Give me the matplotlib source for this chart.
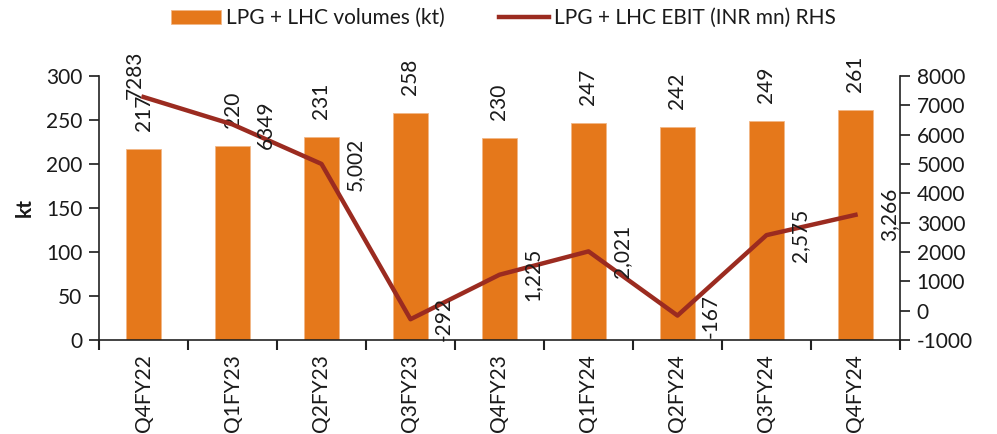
import matplotlib
matplotlib.use("Agg")
import matplotlib.pyplot as plt
import numpy as np

plt.rcParams['font.family'] = ['Lato', 'DejaVu Sans']
plt.rcParams['axes.unicode_minus'] = False

quarters = ["Q4FY22", "Q1FY23", "Q2FY23", "Q3FY23", "Q4FY23",
            "Q1FY24", "Q2FY24", "Q3FY24", "Q4FY24"]
volumes_kt = [217, 220, 231, 258, 230, 247, 242, 249, 261]
ebit_inr_mn = [7283, 6349, 5002, -292, 1225, 2021, -167, 2575, 3266]
ebit_labels = ["7283", "6349", "5,002", "-292", "1,225", "2,021", "-167", "2,575", "3,266"]

bar_color = "#E5781B"
line_color = "#9B2B20"
text_color = "#1a1a1a"
fs = 15

fig = plt.figure(figsize=(9.97, 4.34), dpi=100)
ax = fig.add_axes([0.0993, 0.2166, 0.8034, 0.6083])
ax2 = ax.twinx()

x = np.arange(len(quarters))
bars = ax.bar(x, volumes_kt, width=0.4, color=bar_color, edgecolor="#F2B787",
              linewidth=0.6, label="LPG + LHC volumes (kt)", zorder=2)
line, = ax2.plot(x, ebit_inr_mn, color=line_color, linewidth=3.2,
                 label="LPG + LHC EBIT (INR mn) RHS", zorder=3)

ax.set_xlim(-0.5, len(quarters) - 0.5)
ax.set_ylim(0, 300)
ax.set_yticks(np.arange(0, 301, 50))
ax2.set_ylim(-1000, 8000)
ax2.set_yticks(np.arange(-1000, 8001, 1000))

# category labels at centres, tick marks at the boundaries
ax.set_xticks(x)
ax.set_xticklabels(quarters, rotation=90)
ax.set_xticks(np.arange(-0.5, len(quarters), 1), minor=True)
ax.tick_params(axis="x", which="major", length=0, pad=10, labelsize=fs, colors=text_color)
ax.tick_params(axis="x", which="minor", length=7, width=1.5, direction="out", color="#222222")
ax.tick_params(axis="y", length=7, width=1.2, labelsize=fs, colors=text_color, pad=5)
ax2.tick_params(axis="y", length=7, width=1.2, labelsize=fs, colors=text_color, pad=5)

for a in (ax, ax2):
    a.spines["top"].set_visible(False)
    for s in ("left", "right", "bottom"):
        a.spines[s].set_color("#222222")
        a.spines[s].set_linewidth(1.2)
ax.spines["right"].set_visible(False)
ax2.spines["left"].set_visible(False)
ax2.spines["bottom"].set_visible(False)

ax.set_ylabel("kt", fontsize=fs, fontweight="bold", color=text_color, labelpad=8)

# volume labels above bars
for xi, v in zip(x, volumes_kt):
    ax.annotate(f"{v}", (xi, v), xytext=(0, 13), textcoords="offset points",
                rotation=90, ha="center", va="bottom", fontsize=fs, color=text_color)

# EBIT labels beside the line points
for i, (xi, v, lab) in enumerate(zip(x, ebit_inr_mn, ebit_labels)):
    if i == 0:
        off = (-6, 16)
    else:
        off = (24, 0)
    ax2.annotate(lab, (xi, v), xytext=off, textcoords="offset points",
                 rotation=90, ha="center", va="center", fontsize=fs, color=text_color)

fig.legend(handles=[bars, line], loc="upper center", bbox_to_anchor=(0.505, 1.025),
           ncol=2, frameon=False, fontsize=fs, handlelength=2.4, handleheight=0.65,
           columnspacing=2.6, handletextpad=0.25, labelcolor=text_color)

fig.savefig("out.png", dpi=100)
